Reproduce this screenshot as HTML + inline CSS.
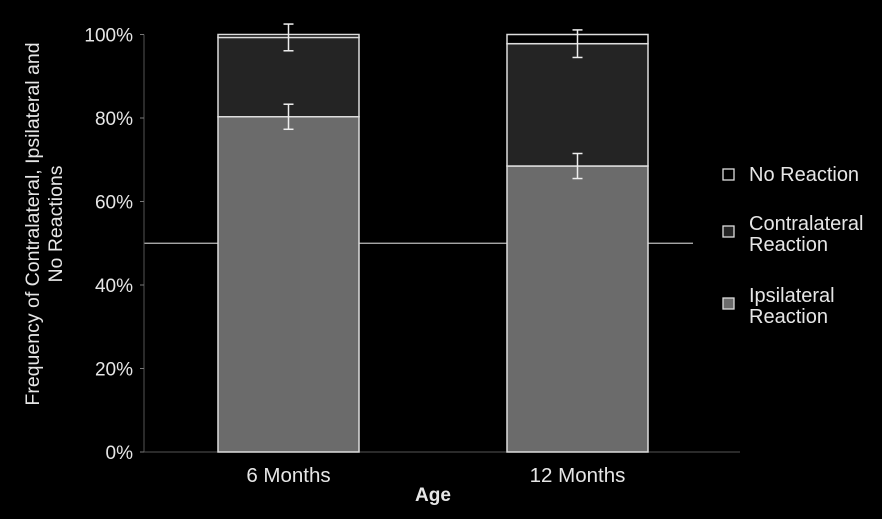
<!DOCTYPE html>
<html><head><meta charset="utf-8"><style>
html,body{margin:0;padding:0;background:#000;}
svg{display:block;font-family:"Liberation Sans",sans-serif;}
</style></head><body>
<svg id="chart" width="882" height="519"></svg>
<script>
const categories=["6 Months","12 Months"];
const ipsilateral=[80.3,68.5];
const contralateral=[19.0,29.3];
const noReaction=[0.7,2.2];
const ipsiErr=[3.0,3.0];
const contraErr=[3.2,3.3];
const yTicks=[0,20,40,60,80,100];
const refLine=50;
const NS="http://www.w3.org/2000/svg";
const svg=document.getElementById('chart');
const y0=452,y100=34.5;
const y=v=>y0-(y0-y100)*v/100;
const centers=[288.5,577.5],bw=141;
const x=i=>centers[i];
function el(t,a,p){const e=document.createElementNS(NS,t);for(const k in a)e.setAttribute(k,a[k]);(p||svg).appendChild(e);return e;}
let l=el('line',{x1:144,x2:693,y1:y(refLine),y2:y(refLine),stroke:'#bbb','stroke-width':1.2});


l=el('line',{x1:144,x2:144,y1:y100,y2:y0,stroke:'#555','stroke-width':1});


l=el('line',{x1:140,x2:740,y1:y0,y2:y0,stroke:'#555','stroke-width':1});


yTicks.forEach(v=>{
  const t=el('line',{x1:140,x2:144,y1:y(v),y2:y(v),stroke:'#777'});
  
  
  const tx=el('text',{x:133,y:y(v)+7,'text-anchor':'end',fill:'#e6e6e6','font-size':19});
  tx.textContent=v+'%';
  
  
});
function errBar(cx,v,e){
  const g=el('g',{stroke:'#eee','stroke-width':1.5});
  
  
  el('line',{x1:cx,x2:cx,y1:y(v+e),y2:y(v-e)},g);
  el('line',{x1:cx-5,x2:cx+5,y1:y(v+e),y2:y(v+e)},g);
  el('line',{x1:cx-5,x2:cx+5,y1:y(v-e),y2:y(v-e)},g);
}
categories.forEach((c,i)=>{
  const cx=x(i),left=cx-bw/2;
  const a=ipsilateral[i],b=a+contralateral[i],t=b+noReaction[i];
  let r=el('rect',{x:left,y:y(a),width:bw,height:y(0)-y(a),fill:'#6b6b6b',stroke:'#ddd','stroke-width':1.5});
  
  
  r=el('rect',{x:left,y:y(b),width:bw,height:y(a)-y(b),fill:'#242424',stroke:'#ddd','stroke-width':1.5});
  
  
  r=el('rect',{x:left,y:y(t),width:bw,height:y(b)-y(t),fill:'#000',stroke:'#ddd','stroke-width':1.5});
  
  
  errBar(cx,a,ipsiErr[i]);
  errBar(cx,b,contraErr[i]);
  const tx=el('text',{x:cx,y:482,'text-anchor':'middle',fill:'#e6e6e6','font-size':20.5});
  tx.textContent=c;
  
  
});
let tx=el('text',{x:433,y:501,'text-anchor':'middle',fill:'#e6e6e6','font-size':19,'font-weight':'bold'});
tx.textContent='Age';


const yt=el('text',{transform:'translate(39,224) rotate(-90)','text-anchor':'middle',fill:'#e6e6e6','font-size':19.5});


const s1=el('tspan',{x:0,dy:0},yt);s1.textContent='Frequency of Contralateral, Ipsilateral and';
const s2=el('tspan',{x:0,dy:23},yt);s2.textContent='No Reactions';
const legend=[["No Reaction",null,"#000",174],["Contralateral","Reaction","#242424",223],["Ipsilateral","Reaction","#6b6b6b",295]];
legend.forEach((L,i)=>{
  const g=el('g',{});
  
  
  const by=L[1]?L[3]+8:L[3];
  el('rect',{x:723,y:by-5,width:11,height:11,fill:L[2],stroke:'#ddd','stroke-width':1.3},g);
  const t=el('text',{x:749,y:L[3]+7,fill:'#e6e6e6','font-size':20},g);
  t.textContent=L[0];
  if(L[1]){const t2=el('text',{x:749,y:L[3]+28,fill:'#e6e6e6','font-size':20},g);t2.textContent=L[1];}
});
</script>
</body></html>
